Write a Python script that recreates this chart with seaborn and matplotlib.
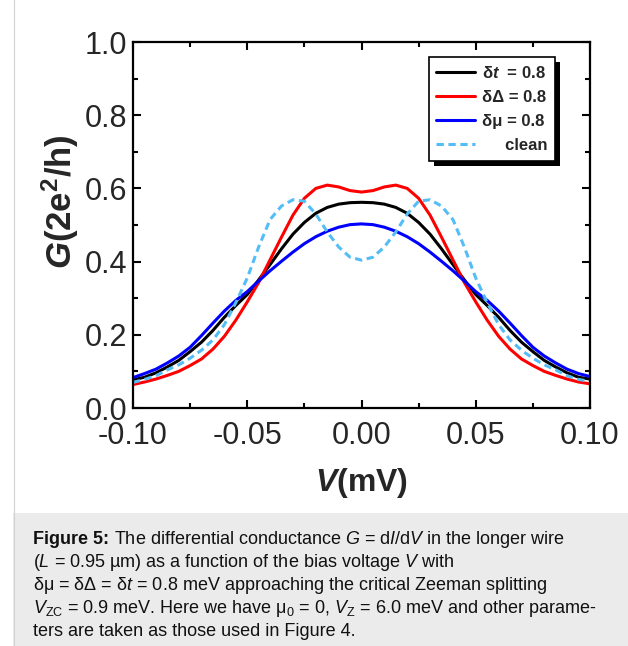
import numpy as np
import matplotlib.pyplot as plt
import seaborn as sns
from matplotlib.patches import Rectangle

# Data (G in units of 2e^2/h)
V = [-0.100, -0.095, -0.090, -0.085, -0.080, -0.075, -0.070, -0.065, -0.060, -0.055,
     -0.050, -0.045, -0.040, -0.035, -0.030, -0.025, -0.020, -0.015, -0.010, -0.005,
     0.000, 0.005, 0.010, 0.015, 0.020, 0.025, 0.030, 0.035, 0.040, 0.045,
     0.050, 0.055, 0.060, 0.065, 0.070, 0.075, 0.080, 0.085, 0.090, 0.095, 0.100]

G_dt = [0.077, 0.084, 0.096, 0.112, 0.130, 0.154, 0.180, 0.212, 0.248, 0.280,
        0.310, 0.350, 0.392, 0.435, 0.475, 0.507, 0.532, 0.548, 0.557, 0.561,
        0.562, 0.561, 0.557, 0.548, 0.532, 0.507, 0.475, 0.435, 0.392, 0.350,
        0.310, 0.280, 0.248, 0.212, 0.180, 0.154, 0.130, 0.112, 0.096, 0.084, 0.079]

G_dD = [0.064, 0.071, 0.079, 0.089, 0.100, 0.116, 0.134, 0.161, 0.196, 0.240,
        0.290, 0.343, 0.405, 0.467, 0.527, 0.573, 0.600, 0.609, 0.604, 0.594,
        0.590, 0.594, 0.604, 0.609, 0.600, 0.573, 0.527, 0.467, 0.405, 0.343,
        0.290, 0.240, 0.196, 0.161, 0.134, 0.116, 0.100, 0.089, 0.079, 0.071, 0.066]

G_dmu = [0.083, 0.094, 0.106, 0.123, 0.142, 0.166, 0.198, 0.232, 0.265, 0.294,
         0.318, 0.347, 0.375, 0.401, 0.426, 0.449, 0.468, 0.483, 0.494, 0.501,
         0.503, 0.501, 0.494, 0.483, 0.468, 0.449, 0.426, 0.401, 0.375, 0.347,
         0.318, 0.294, 0.265, 0.232, 0.198, 0.166, 0.142, 0.123, 0.106, 0.094, 0.086]

G_clean = [0.070, 0.078, 0.088, 0.104, 0.118, 0.136, 0.158, 0.186, 0.228, 0.288,
           0.355, 0.440, 0.515, 0.552, 0.569, 0.565, 0.530, 0.481, 0.440, 0.412,
           0.404, 0.412, 0.440, 0.481, 0.530, 0.565, 0.569, 0.552, 0.515, 0.440,
           0.355, 0.288, 0.228, 0.186, 0.158, 0.136, 0.118, 0.104, 0.088, 0.078, 0.073]

labels = [r"δ$\mathbf{t}$  = 0.8", "δΔ = 0.8", "δμ = 0.8", "     clean"]
colors = ["black", "#ff0000", "#0000ff", "#55bdf5"]

caption_head = "Figure 5:"
caption = [
    r" The differential conductance $G$ = d$I$/d$V$ in the longer wire",
    r"($L$ = 0.95 µm) as a function of the bias voltage $V$ with",
    r"δμ = δΔ = δ$t$ = 0.8 meV approaching the critical Zeeman splitting",
    r"$V_{\mathrm{ZC}}$ = 0.9 meV. Here we have μ$_{\mathrm{0}}$ = 0, $V_{\mathrm{Z}}$ = 6.0 meV and other parame-",
    "ters are taken as those used in Figure 4.",
]

sns.set_style("ticks")
plt.rcParams["font.family"] = ["Liberation Sans", "DejaVu Sans"]
plt.rcParams["mathtext.fontset"] = "custom"
plt.rcParams["mathtext.rm"] = "Liberation Sans"
plt.rcParams["mathtext.it"] = "Liberation Sans:italic"
plt.rcParams["mathtext.bf"] = "Liberation Sans:italic:bold"
plt.rcParams["mathtext.sf"] = "Liberation Sans:bold"

fig = plt.figure(figsize=(6.28, 6.46), dpi=100)
ax = fig.add_axes([133 / 628, 1 - 408 / 646, 457 / 628, 366 / 646])

# caption panel and left rule
fig.patches.append(Rectangle((13 / 628, 0), 1, 1 - 513 / 646, transform=fig.transFigure,
                             facecolor="#ebebeb", edgecolor="none", zorder=0))
fig.add_artist(plt.Line2D([13.5 / 628, 13.5 / 628], [0, 1], color="#d2d2d2", lw=0.8,
                          transform=fig.transFigure))

series = [G_dt, G_dD, G_dmu, G_clean]
for g, lab, c in zip(series, labels, colors):
    ls = (0, (2.4, 1.5)) if lab.strip() == "clean" else "-"
    sns.lineplot(x=V, y=g, ax=ax, color=c, lw=2.2, ls=ls, label=lab)

ax.set_xlim(-0.1, 0.1)
ax.set_ylim(0, 1.0)
ax.set_xticks([-0.10, -0.05, 0.00, 0.05, 0.10])
ax.set_xticklabels(["-0.10", "-0.05", "0.00", "0.05", "0.10"])
ax.set_yticks([0.0, 0.2, 0.4, 0.6, 0.8, 1.0])
ax.set_yticklabels(["0.0", "0.2", "0.4", "0.6", "0.8", "1.0"])
ax.set_xticks(np.arange(-0.1, 0.1001, 0.025), minor=True)
ax.set_yticks(np.arange(0, 1.001, 0.1), minor=True)
ax.tick_params(which="both", direction="in", top=True, right=True, width=1.5, color="black")
ax.tick_params(which="major", length=6, labelsize=22)
ax.tick_params(which="minor", length=3.5)
ax.tick_params(axis="x", pad=9)
ax.tick_params(axis="y", pad=4)
for sp in ax.spines.values():
    sp.set_visible(True)
    sp.set_linewidth(1.6)
    sp.set_color("black")

ax.set_xlabel(r"$\mathbf{V}$(mV)", fontsize=23, fontweight="bold")
ax.set_ylabel(r"$\mathbf{G}$(2e$^{\mathsf{2}}$/h)", fontsize=25, fontweight="bold")
ax.xaxis.set_label_coords(0.5, -0.158)
ax.yaxis.set_label_coords(-0.114, 0.565)

handles, labs = ax.get_legend_handles_labels()
leg = ax.legend(handles, labs, loc="upper right",
                bbox_to_anchor=(555 / 628, 1 - 57 / 646), bbox_transform=fig.transFigure,
                borderaxespad=0, fancybox=False, framealpha=1, edgecolor="black",
                prop={"weight": "bold", "size": 12}, handlelength=2.3,
                labelspacing=0.55, handletextpad=0.45, borderpad=0.45)
leg.get_frame().set_linewidth(1.2)

# caption text, bold lead-in followed by regular text on the same baseline
base = 544
head = fig.text(33 / 628, 1 - base / 646, caption_head, fontsize=13, fontweight="bold",
                va="baseline", ha="left", color="#111111")

# drop shadow behind legend + place rest of caption line 1
fig.canvas.draw()
bb = leg.get_window_extent().transformed(fig.transFigure.inverted())
ax.add_patch(Rectangle((bb.x0 + 5 / 628, bb.y0 - 5 / 646), bb.width, bb.height,
                       transform=fig.transFigure, facecolor="black", edgecolor="none",
                       clip_on=False, zorder=4.5))
head_x1 = head.get_window_extent().x1 / 628

for i, line in enumerate(caption):
    x = head_x1 if i == 0 else 33 / 628
    fig.text(x, 1 - (base + i * 23) / 646, line, fontsize=13, va="baseline", ha="left",
             color="#111111")

plt.savefig("out.png", dpi=100)
